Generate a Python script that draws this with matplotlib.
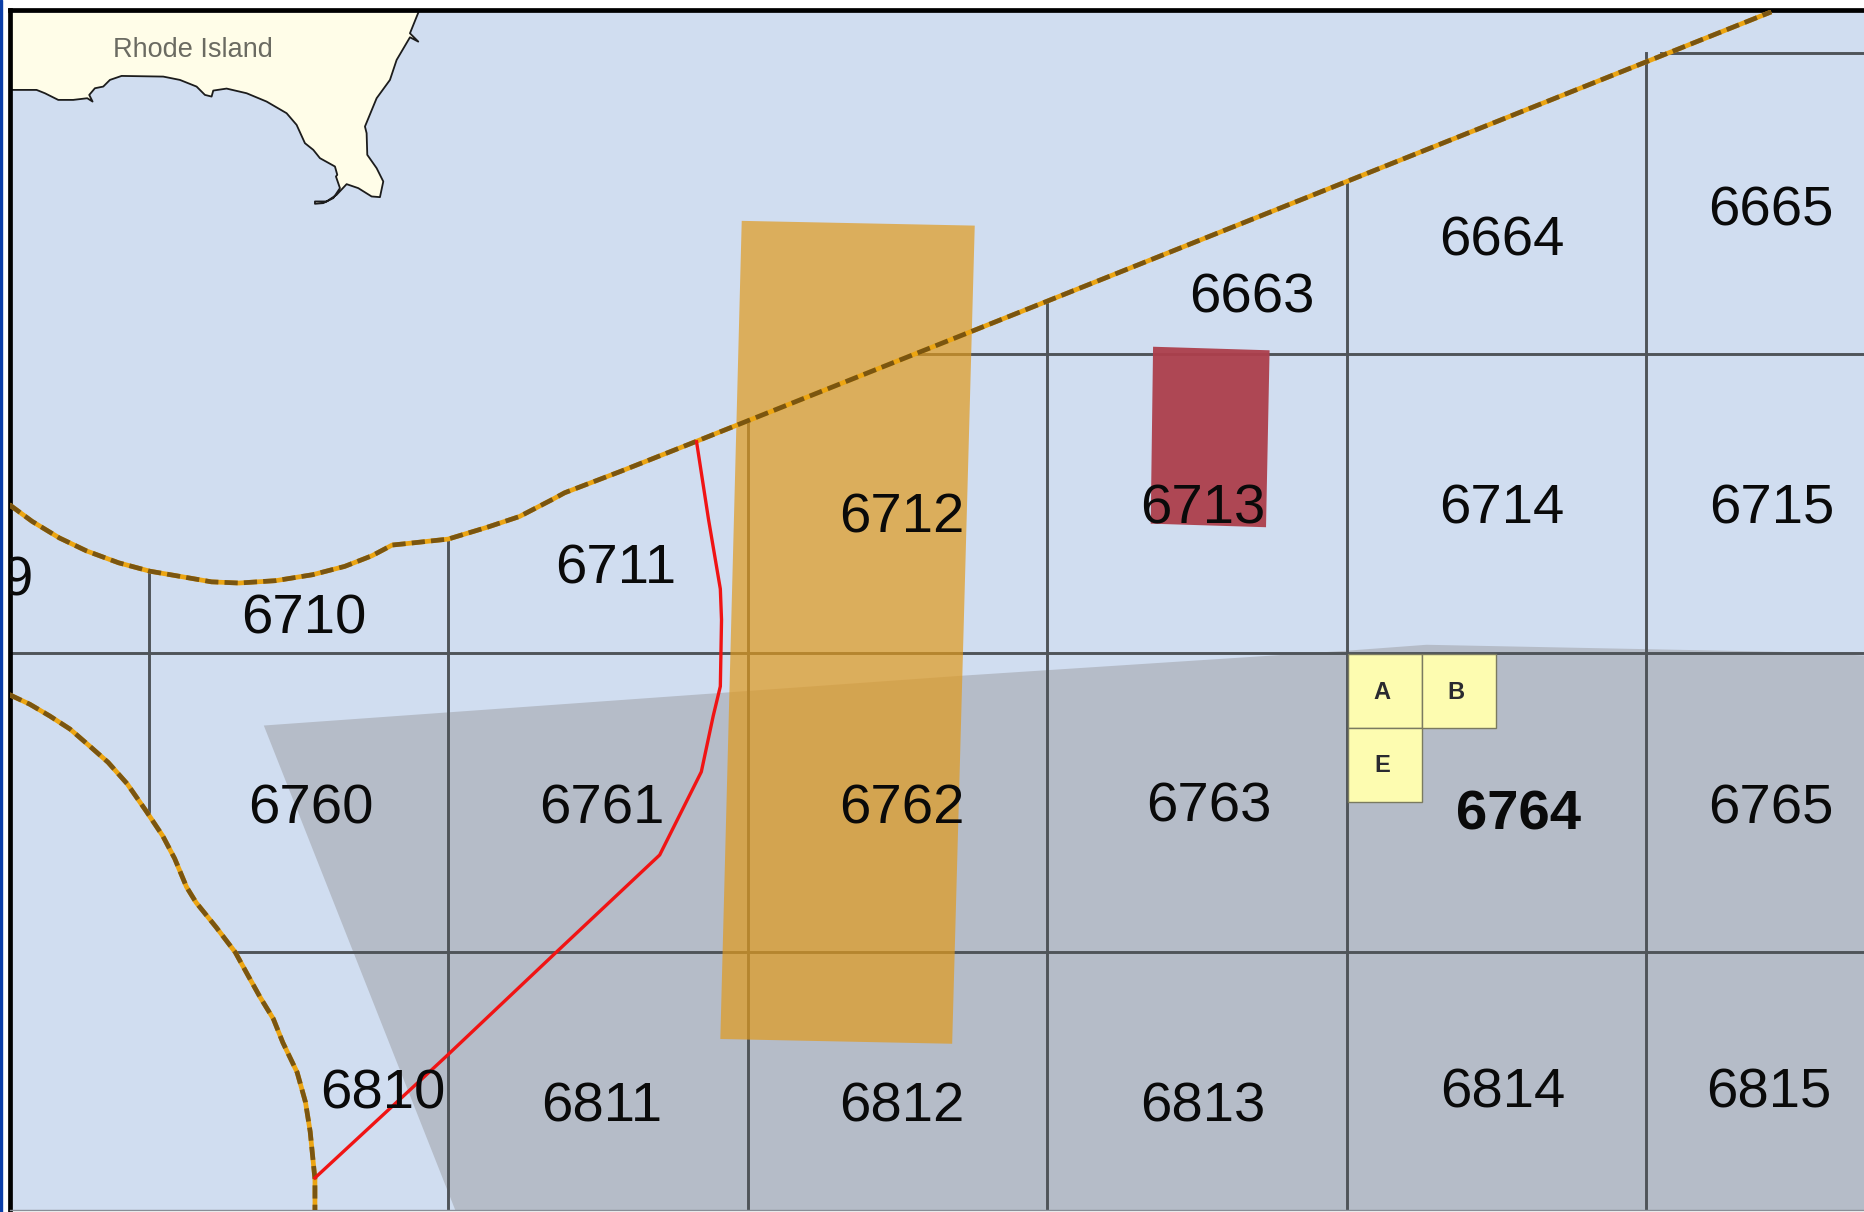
import numpy as np
import matplotlib
matplotlib.use('Agg')
import matplotlib.pyplot as plt
from matplotlib.patches import Polygon, Rectangle

plt.rcParams['font.family'] = ['Liberation Sans', 'DejaVu Sans']

# map units: picture read at 1568 wide
block_labels = ['6663', '6664', '6665', '6712', '6713', '6714', '6715', '6711', '6710', '9',
                '6760', '6761', '6762', '6763', '6765', '6810', '6811', '6812', '6813', '6814', '6815']
block_x = [1053, 1263, 1490, 759, 1012, 1263, 1490, 518, 256, 14, 262, 506, 759, 1017, 1490, 322, 506, 759, 1012, 1264, 1488]
block_y = [251, 203, 178, 437, 429, 429, 429, 480, 522, 490, 682, 682, 682, 680, 682, 922, 933, 933, 933, 921, 921]

lease_labels = ['A', 'B', 'E']
lease_x = [1134, 1196, 1134]
lease_y = [551, 551, 613]

# horizontal grid: y, x from, x to
hgrid_y = [45, 298, 550, 802]
hgrid_x0 = [1397, 770, 8, 198]
hgrid_x1 = [1568, 1568, 1568, 1568]
# vertical grid: x, y from, y to
vgrid_x = [125, 377, 629, 881, 1133, 1385]
vgrid_y0 = [481, 454, 353, 253, 153, 45]
vgrid_y1 = [683, 1019, 1019, 1019, 1019, 1019]

eez_top_x = [8, 27, 50, 73, 100, 126, 155, 178, 201, 232, 263, 290, 313, 330, 340, 377, 410, 437, 464, 475, 522, 585, 1490]
eez_top_y = [425, 439, 453, 464, 474, 481, 486, 490, 491, 489, 484, 477, 468, 459, 458, 454, 444, 435, 421, 415, 397, 372, 10]
eez_low_x = [8, 25, 42, 59, 74, 91, 107, 123, 137, 147, 157, 165, 182, 198, 209, 219, 230, 238, 250, 257, 261, 265, 265]
eez_low_y = [585, 593, 603, 614, 627, 642, 660, 683, 704, 723, 747, 760, 781, 802, 822, 840, 858, 878, 903, 928, 953, 993, 1019]

red_x = [586, 596, 606, 607, 606, 600, 590, 555, 470, 375, 265]
red_y = [372, 437, 496, 522, 578, 603, 650, 720, 800, 890, 992]

gray_x = [222, 810, 1133, 1200, 1500, 1568, 1568, 383]
gray_y = [611, 569, 548, 543, 549, 552, 1019, 1019]
orange_x = [624, 820, 801, 606]
orange_y = [186, 190, 879, 875]
dark_red_x = [970, 1068, 1065, 968]
dark_red_y = [292, 295, 444, 441]

# coast traced on a 3x crop of the full size picture
coast_x = np.array([35, 110, 135, 175, 220, 262, 278, 268, 285, 310, 330, 365, 490, 540, 590, 615, 635, 640, 680, 740,
                    800, 860, 890, 915, 940, 960, 1005, 1012, 1008, 1020, 1000, 970, 945, 945, 980, 1010, 1040, 1075,
                    1115, 1140, 1150, 1130, 1102, 1100, 1095, 1130, 1170, 1190, 1230, 1255, 1230, 1255]) / 3.566
coast_y = np.array([270, 270, 280, 300, 300, 295, 305, 285, 265, 260, 240, 228, 230, 240, 260, 285, 290, 272, 266, 280,
                    305, 340, 375, 430, 450, 475, 500, 525, 530, 565, 595, 610, 612, 605, 605, 585, 553, 565,
                    590, 592, 545, 505, 465, 400, 380, 295, 240, 180, 112, 125, 100, 38]) / 3.566

fig = plt.figure(figsize=(18.64, 12.12), dpi=100, facecolor='white')
fig.add_artist(Rectangle((0, 0), 2 / 1864, 1, transform=fig.transFigure, color='#0b3ea8'))
ax = fig.add_axes([10 / 1864, 2 / 1212, 1 - 10 / 1864, 1 - 11.5 / 1212])
ax.set_xlim(8.5, 1568)
ax.set_ylim(1019, 8)
ax.set_facecolor('#d0ddf0')
ax.set_xticks([])
ax.set_yticks([])
ax.spines['right'].set_visible(False)
ax.spines['bottom'].set_linewidth(1)
ax.spines['bottom'].set_color('#8a8f98')
for side in ['left', 'top']:
    ax.spines[side].set_linewidth(3.4)
    ax.spines[side].set_color('black')

land_x = list(coast_x) + [35 / 3.566]
land_y = list(coast_y) + [38 / 3.566]
ax.add_patch(Polygon(np.column_stack([land_x, land_y]), closed=True, fc='#fffde8', ec='none', zorder=1))
ax.plot(coast_x, coast_y, color='#1c1c1c', lw=1.3, zorder=2)
ax.text(162, 42, 'Rhode Island', fontsize=19.5, color='#6b6b62', ha='center', va='center', zorder=3)

ax.add_patch(Polygon(np.column_stack([gray_x, gray_y]), closed=True, fc='#b5bcc8', ec='none', zorder=1))

for y, x0, x1 in zip(hgrid_y, hgrid_x0, hgrid_x1):
    ax.plot([x0, x1], [y, y], color='#4f5459', lw=2.1, zorder=2)
for x, y0, y1 in zip(vgrid_x, vgrid_y0, vgrid_y1):
    ax.plot([x, x], [y0, y1], color='#4f5459', lw=2.1, zorder=2)

ax.add_patch(Polygon(np.column_stack([orange_x, orange_y]), closed=True, fc='#e19a1d', alpha=0.7, ec='none', zorder=3))
ax.add_patch(Polygon(np.column_stack([dark_red_x, dark_red_y]), closed=True, fc='#ad3f4c', alpha=0.95, ec='none', zorder=3))

for x_line, y_line in [(eez_top_x, eez_top_y), (eez_low_x, eez_low_y)]:
    ax.plot(x_line, y_line, color='#eca512', lw=3.4, zorder=4, solid_capstyle='butt')
    ax.plot(x_line, y_line, color='#7a5510', lw=3.4, dashes=(2.8, 1.3), zorder=5)

ax.plot(red_x, red_y, color='#f01414', lw=2.4, zorder=6)

for name, x, y in zip(lease_labels, lease_x, lease_y):
    ax.add_patch(Rectangle((x, y), 62.5, 62.5, fc='#fdfcb0', ec='#7a7a60', lw=1, zorder=6))
    ax.text(x + 28.5, y + 32, name, fontsize=17, fontweight='bold', color='#2a2a30',
            ha='center', va='center', zorder=7)

for name, x, y in zip(block_labels, block_x, block_y):
    ax.text(x, y, name, fontsize=40.5, color='#0a0a0a', ha='center', va='center', zorder=8, clip_on=True)
ax.text(1277, 687, '6764', fontsize=40.5, fontweight='bold', color='#0a0a0a', ha='center', va='center', zorder=8)

plt.savefig('out.png', dpi=100)
